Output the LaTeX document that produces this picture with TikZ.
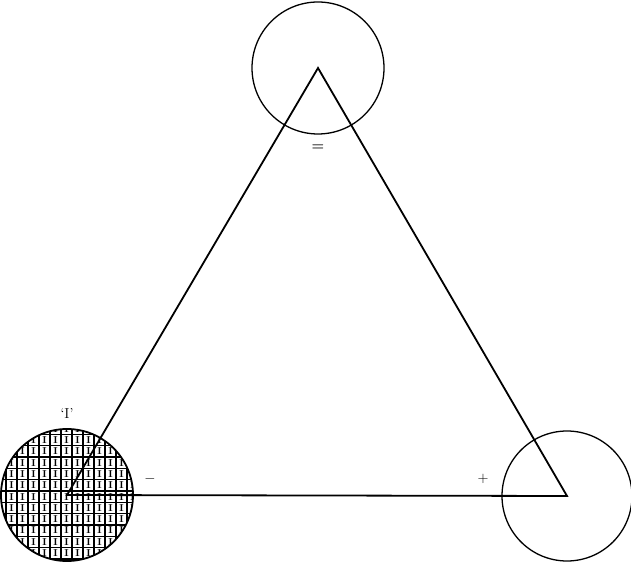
\documentclass[tikz,border=0pt]{standalone}
\usepackage{amssymb}
\usetikzlibrary{arrows}
\tikzset{
	side/.style={line width=1.8pt},
	ring/.style={line width=1.3pt},
	cellmark/.style={font=\fontsize{10}{10}\selectfont\bfseries, inner sep=0pt},
	sign/.style={font=\Large, inner sep=0pt}
}
\begin{document}
\begin{tikzpicture}[x=1pt,y=1pt]
			\useasboundingbox (0,0) rectangle (631,562);
			\coordinate (t) at (318,494);
			\coordinate (l) at (67,67);
			\coordinate (r) at (567,66);
			\begin{scope}[shift={(67,67)}]
				\clip (0,0) circle(66);
				\draw[line width=1.4pt, xshift=-6, yshift=4, xstep=11, ystep=11.3] (-70,-80) grid (80,75);
				\foreach \i in {-5,...,6}
					\foreach \j in {-6,...,5}
						\node[cellmark] at (11*\i-0.5, 11.3*\j+9.65) {I};
			\end{scope}
			\draw[ring, line width=1.8pt] (l) circle(66);
			\draw[ring] (t) circle(66);
			\draw[ring] (r) circle(65);
			\draw[side] (t) -- (l) -- (r) -- cycle;
			\node[sign, font=\Large\bfseries] (eq) at (318,414) {=};
			\node[sign, font=\Large] (mark) at (67,148) {`I'};
			\node[sign] (minus) at (150,83) {$-$};
			\node[sign] (plus) at (483,83) {$+$};
		\end{tikzpicture}
\end{document}
